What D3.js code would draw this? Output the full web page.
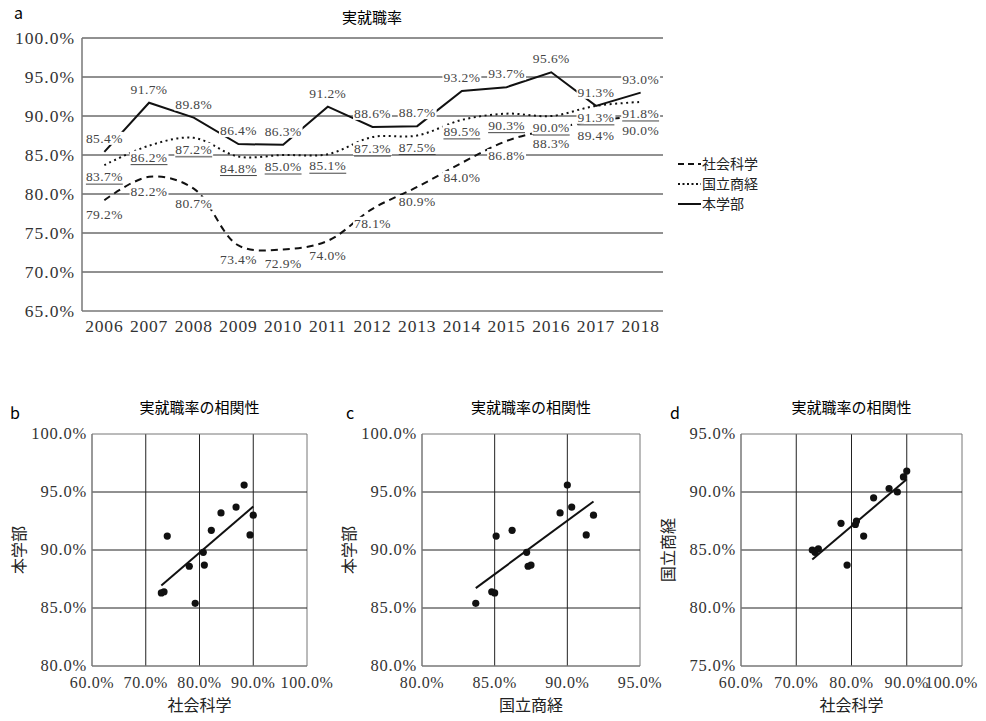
<html>
<script src="https://d3js.org/d3.v7.min.js"></script>
<style>
body { margin: 0; background: #fff; }
</style>
<body>
<div id="chart"></div>
<script>

// data
var years = ["2006","2007","2008","2009","2010","2011","2012","2013","2014","2015","2016","2017","2018"];
var honGakubu = [85.4, 91.7, 89.8, 86.4, 86.3, 91.2, 88.6, 88.7, 93.2, 93.7, 95.6, 91.3, 93.0];
var kokuritsu = [83.7, 86.2, 87.2, 84.8, 85.0, 85.1, 87.3, 87.5, 89.5, 90.3, 90.0, 91.3, 91.8];
var shakai = [79.2, 82.2, 80.7, 73.4, 72.9, 74.0, 78.1, 80.9, 84.0, 86.8, 88.3, 89.4, 90.0];
var seriesNames = ["社会科学", "国立商経", "本学部"];
var yTicksTop = [65, 70, 75, 80, 85, 90, 95, 100];

var SERIF = "'Liberation Serif', 'DejaVu Serif', serif";
var JP = "'Noto Sans CJK JP', 'Noto Sans', sans-serif";
var fmt = function(v){ return v.toFixed(1) + "%"; };

var svg = d3.select("#chart").append("svg")
    .attr("width", 986)
    .attr("height", 721);

//----- panel a : line chart
var x = d3.scaleBand().domain(years).range([82, 663]);
var y = d3.scaleLinear().domain([65, 100]).range([311, 38]);
var cx = function(i){ return x(years[i]) + x.bandwidth() / 2; };

svg.append("text").style("font-family", JP).attr("x", 14).attr("y", 19)
    .style("font-size", "16px").text("a");
svg.append("text").style("font-family", JP).attr("x", 372).attr("y", 23)
    .attr("text-anchor", "middle").style("font-size", "15px").text("実就職率");

// gridlines
svg.append("g").selectAll("line").data(yTicksTop.slice(1)).enter().append("line")
    .attr("x1", 82).attr("x2", 663)
    .attr("y1", function(d){ return y(d); }).attr("y2", function(d){ return y(d); })
    .attr("stroke", "#222").attr("stroke-width", 1);
svg.append("line").attr("x1", 82).attr("x2", 663).attr("y1", y(65)).attr("y2", y(65))
    .attr("stroke", "#777").attr("stroke-width", 1.5);
svg.append("line").attr("x1", 82).attr("x2", 82).attr("y1", y(100)).attr("y2", y(65))
    .attr("stroke", "#777").attr("stroke-width", 1.5);

// y tick labels
svg.append("g").selectAll("text").data(yTicksTop).enter().append("text")
    .style("font-family", SERIF).style("letter-spacing", "1px")
    .attr("x", 75).attr("y", function(d){ return y(d) + 6; })
    .attr("text-anchor", "end").style("font-size", "17.5px").attr("fill", "#333")
    .text(fmt);

// x tick labels
svg.append("g").selectAll("text").data(years).enter().append("text")
    .style("font-family", SERIF).style("letter-spacing", "0.8px")
    .attr("x", function(d, i){ return cx(i); }).attr("y", 332)
    .attr("text-anchor", "middle").style("font-size", "17.5px").attr("fill", "#333")
    .text(function(d){ return d; });

var smooth = d3.line().x(function(d, i){ return cx(i); }).y(function(d){ return y(d); })
    .curve(d3.curveCatmullRom.alpha(0.5));
var straight = d3.line().x(function(d, i){ return cx(i); }).y(function(d){ return y(d); });

svg.append("path").attr("d", smooth(shakai)).attr("fill", "none")
    .attr("stroke", "#111").attr("stroke-width", 2).attr("stroke-dasharray", "7,5");
svg.append("path").attr("d", smooth(kokuritsu)).attr("fill", "none")
    .attr("stroke", "#111").attr("stroke-width", 2).attr("stroke-dasharray", "2,3.5");
svg.append("path").attr("d", straight(honGakubu)).attr("fill", "none")
    .attr("stroke", "#111").attr("stroke-width", 2);

// data labels with white backing
function addLabels(values, dy, underline) {
    var g = svg.append("g");
    values.forEach(function(v, i){
        var t = g.append("text").style("font-family", SERIF).style("letter-spacing", "0.4px")
            .attr("x", cx(i)).attr("y", y(v) + dy)
            .attr("text-anchor", "middle").style("font-size", "13.5px").attr("fill", "#444")
            .text(fmt(v));
        var b = t.node().getBBox();
        g.insert("rect", function(){ return t.node(); })
            .attr("x", b.x - 1).attr("y", b.y + 1).attr("width", b.width + 2).attr("height", b.height - 2)
            .attr("fill", "#fff");
        if (underline) {
            g.append("line").attr("x1", b.x).attr("x2", b.x + b.width)
                .attr("y1", y(v) + dy + 3).attr("y2", y(v) + dy + 3)
                .attr("stroke", "#444").attr("stroke-width", 1);
        }
    });
}
addLabels(honGakubu, -9, false);
addLabels(kokuritsu, 16, true);
addLabels(shakai, 19, false);

// legend
var dashes = ["6,4", "2,2.5", null];
seriesNames.forEach(function(name, i){
    var ly = 164 + i * 20;
    var l = svg.append("line").attr("x1", 678).attr("x2", 701).attr("y1", ly).attr("y2", ly)
        .attr("stroke", "#111").attr("stroke-width", 2);
    if (dashes[i]) l.attr("stroke-dasharray", dashes[i]);
    svg.append("text").style("font-family", JP).attr("x", 702).attr("y", ly + 5)
        .style("font-size", "13.5px").attr("fill", "#222")
        .attr("textLength", name.length * 14).attr("lengthAdjust", "spacingAndGlyphs")
        .text(name);
});

//----- panels b, c, d : scatter plots
function linreg(xs, ys) {
    var mx = d3.mean(xs), my = d3.mean(ys);
    var sxy = d3.sum(xs, function(d, i){ return (d - mx) * (ys[i] - my); });
    var sxx = d3.sum(xs, function(d){ return (d - mx) * (d - mx); });
    var b = sxy / sxx;
    return { slope: b, icept: my - b * mx };
}

function scatter(cfg) {
    var sx = d3.scaleLinear().domain(cfg.xDom).range([cfg.left, cfg.right]);
    var sy = d3.scaleLinear().domain(cfg.yDom).range([666, 434]);
    var g = svg.append("g");
    var xt = d3.range(cfg.xDom[0], cfg.xDom[1] + 0.01, cfg.xStep);
    var yt = d3.range(cfg.yDom[0], cfg.yDom[1] + 0.01, 5);

    g.append("text").style("font-family", JP).attr("x", cfg.tagX).attr("y", 419)
        .style("font-size", "16px").text(cfg.tag);
    g.append("text").style("font-family", JP).attr("x", (cfg.left + cfg.right) / 2).attr("y", 413)
        .attr("text-anchor", "middle").style("font-size", "15px").text("実就職率の相関性");

    g.selectAll(".gx").data(xt.slice(1)).enter().append("line")
        .attr("x1", sx).attr("x2", sx).attr("y1", 434).attr("y2", 666)
        .attr("stroke", function(d, i){ return i == xt.length - 2 ? "#777" : "#222"; });
    g.selectAll(".gy").data(yt.slice(1)).enter().append("line")
        .attr("x1", cfg.left).attr("x2", cfg.right).attr("y1", sy).attr("y2", sy)
        .attr("stroke", function(d, i){ return i == yt.length - 2 ? "#777" : "#222"; });
    g.append("line").attr("x1", cfg.left).attr("x2", cfg.right).attr("y1", 666).attr("y2", 666)
        .attr("stroke", "#777").attr("stroke-width", 1.5);
    g.append("line").attr("x1", cfg.left).attr("x2", cfg.left).attr("y1", 434).attr("y2", 666)
        .attr("stroke", "#777").attr("stroke-width", 1.5);

    g.selectAll(".tx").data(xt).enter().append("text").style("font-family", SERIF)
        .style("letter-spacing", "0.6px")
        .attr("x", sx).attr("y", 688).attr("text-anchor", "middle")
        .style("font-size", "16px").attr("fill", "#333").text(fmt)
        .each(function(){
            // keep the last label inside the page, as the reference does
            var b = this.getBBox();
            if (b.x + b.width > 978) d3.select(this).attr("x", 978).attr("text-anchor", "end");
        });
    g.selectAll(".ty").data(yt).enter().append("text").style("font-family", SERIF)
        .style("letter-spacing", "0.8px")
        .attr("x", cfg.left - 5).attr("y", function(d){ return sy(d) + 5; }).attr("text-anchor", "end")
        .style("font-size", "16.5px").attr("fill", "#333").text(fmt);

    g.append("text").style("font-family", JP).attr("x", (cfg.left + cfg.right) / 2).attr("y", 711)
        .attr("text-anchor", "middle").style("font-size", "16px").attr("fill", "#222").text(cfg.xName);
    g.append("text").style("font-family", JP)
        .attr("transform", "translate(" + (cfg.left - 67) + ",550) rotate(-90)")
        .attr("text-anchor", "middle").style("font-size", "16px").attr("fill", "#222").text(cfg.yName);

    var r = linreg(cfg.xs, cfg.ys);
    var x0 = d3.min(cfg.xs), x1 = d3.max(cfg.xs);
    g.append("line").attr("x1", sx(x0)).attr("x2", sx(x1))
        .attr("y1", sy(r.icept + r.slope * x0)).attr("y2", sy(r.icept + r.slope * x1))
        .attr("stroke", "#111").attr("stroke-width", 2);

    g.selectAll("circle").data(cfg.xs).enter().append("circle")
        .attr("cx", function(d){ return sx(d); })
        .attr("cy", function(d, i){ return sy(cfg.ys[i]); })
        .attr("r", 3.6).attr("fill", "#111");
}

scatter({ tag: "b", tagX: 10, left: 92, right: 307, xDom: [60, 100], xStep: 10, yDom: [80, 100],
    xs: shakai, ys: honGakubu, xName: "社会科学", yName: "本学部" });
scatter({ tag: "c", tagX: 346, left: 422, right: 640, xDom: [80, 95], xStep: 5, yDom: [80, 100],
    xs: kokuritsu, ys: honGakubu, xName: "国立商経", yName: "本学部" });
scatter({ tag: "d", tagX: 670, left: 741, right: 962, xDom: [60, 100], xStep: 10, yDom: [75, 95],
    xs: shakai, ys: kokuritsu, xName: "社会科学", yName: "国立商経" });

</script>
</body>
</html>
